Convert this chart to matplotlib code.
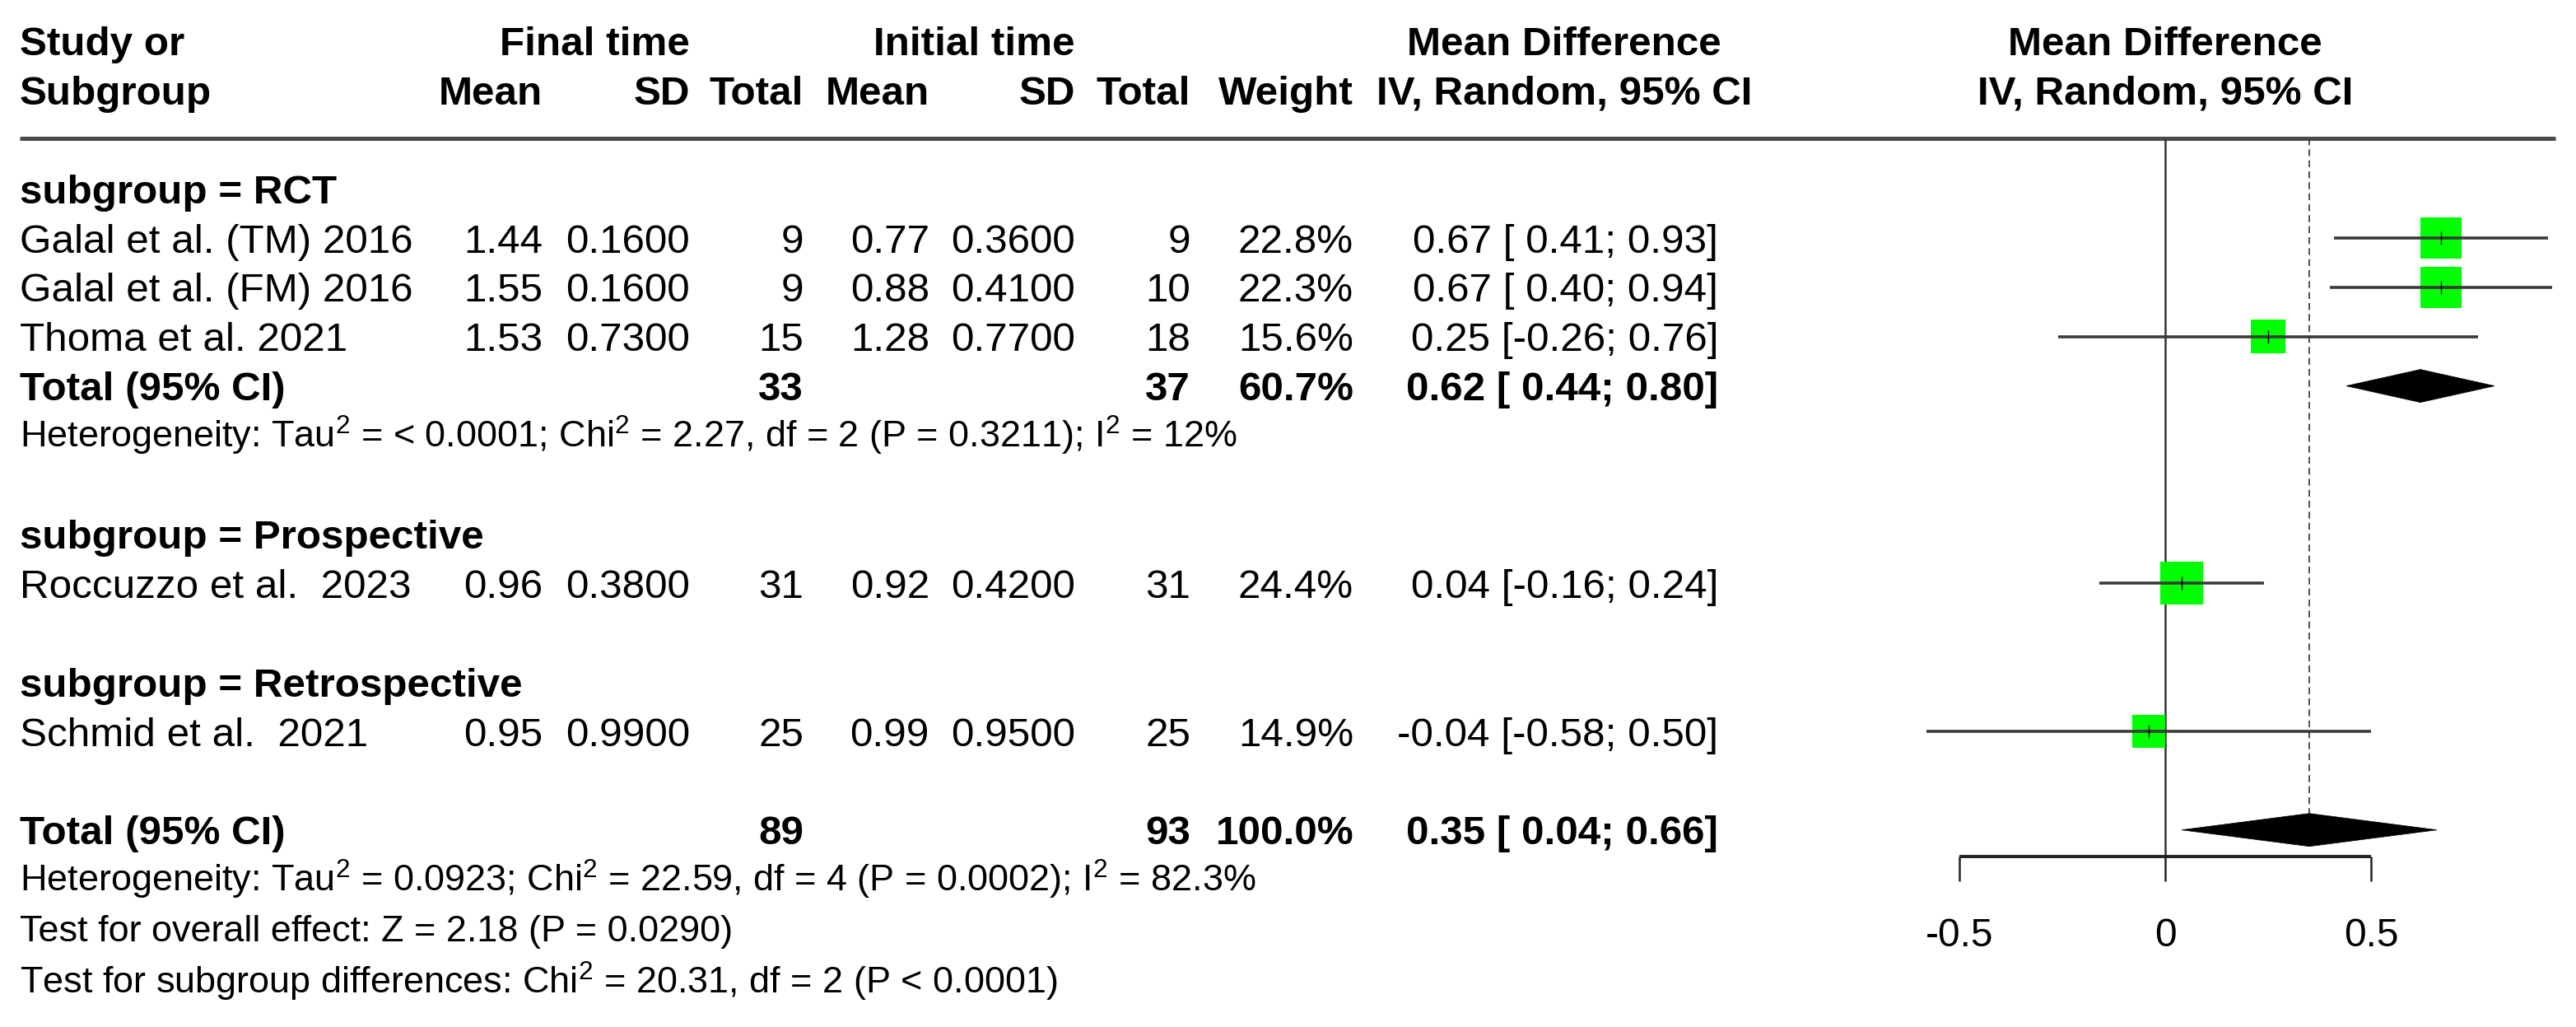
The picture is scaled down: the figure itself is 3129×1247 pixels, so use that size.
import matplotlib
matplotlib.use("Agg")
import matplotlib.pyplot as plt
from matplotlib.patches import Rectangle, Polygon

plt.rcParams['font.family'] = ['Liberation Sans', 'DejaVu Sans']
plt.rcParams['mathtext.fontset'] = 'custom'
plt.rcParams['mathtext.rm'] = 'Liberation Sans'
plt.rcParams['mathtext.it'] = 'Liberation Sans:italic'
plt.rcParams['mathtext.bf'] = 'Liberation Sans:bold'

# Dados dos estudos
studies = ["Galal et al. (TM) 2016", "Galal et al. (FM) 2016", "Thoma et al. 2021",
           "Roccuzzo et al.  2023", "Schmid et al.  2021"]
fin_mean = [1.44, 1.55, 1.53, 0.96, 0.95]
fin_sd = [0.16, 0.16, 0.73, 0.38, 0.99]
fin_n = [9, 9, 15, 31, 25]
ini_mean = [0.77, 0.88, 1.28, 0.92, 0.99]
ini_sd = [0.36, 0.41, 0.77, 0.42, 0.95]
ini_n = [9, 10, 18, 31, 25]
weight = [22.8, 22.3, 15.6, 24.4, 14.9]
md = [0.67, 0.67, 0.25, 0.04, -0.04]
lo = [0.41, 0.40, -0.26, -0.16, -0.58]
hi = [0.93, 0.94, 0.76, 0.24, 0.50]

# Totais (subgrupo RCT e geral)
tot_labels = ["RCT", "overall"]
tot_fin_n = [33, 89]
tot_ini_n = [37, 93]
tot_weight = [60.7, 100.0]
tot_md = [0.62, 0.35]
tot_lo = [0.44, 0.04]
tot_hi = [0.80, 0.66]

subgroups = ["subgroup = RCT", "subgroup = Prospective", "subgroup = Retrospective"]
het_rct = "Heterogeneity: Tau$^{2}$ = < 0.0001; Chi$^{2}$ = 2.27, df = 2 (P = 0.3211); I$^{2}$ = 12%"
het_all = "Heterogeneity: Tau$^{2}$ = 0.0923; Chi$^{2}$ = 22.59, df = 4 (P = 0.0002); I$^{2}$ = 82.3%"
test_all = "Test for overall effect: Z = 2.18 (P = 0.0290)"
test_sub = "Test for subgroup differences: Chi$^{2}$ = 20.31, df = 2 (P < 0.0001)"
ticks = [-0.5, 0, 0.5]

# Layout (pixels)
W, H = 3129, 1247
fs = 35.6
fs_small = 32.4
def row(i):
    return 229 + 59.9 * i

study_rows = [row(1), row(2), row(3), row(8), row(11)]
tot_rows = [row(4), row(13)]
sub_rows = [row(0), row(7), row(10)]

x_name = 24
c_fmean, c_fsd, c_fn = 659, 838, 976
c_imean, c_isd, c_in = 1129, 1306, 1446
c_w, c_ci, c_cihead = 1644, 2087, 1900
off = 17.7

fig = plt.figure(figsize=(W / 100, H / 100), dpi=100)
ax = fig.add_axes([0, 0, 1, 1])
ax.set_xlim(0, W)
ax.set_ylim(H, 0)
ax.axis('off')

# forest axes: 500 px por unidade, zero em x=2630
x0, ppu = 2630, 500
axf = fig.add_axes([0, 0, 1, 1])
axf.set_xlim(-x0 / ppu, (W - x0) / ppu)
axf.set_ylim(H, 0)
axf.axis('off')

def txt(x, y, s, ha='right', bold=False, size=fs):
    ax.text(x, y, s, ha=ha, va='baseline', fontsize=size,
            fontweight='bold' if bold else 'normal', color='black')

# Cabeçalho
txt(x_name, 67, "Study or", ha='left', bold=True)
txt(x_name, 127, "Subgroup", ha='left', bold=True)
txt(c_fsd, 67, "Final time", bold=True)
txt(c_isd, 67, "Initial time", bold=True)
txt(c_cihead, 67, "Mean Difference", ha='center', bold=True)
for x, s in [(c_fmean, "Mean"), (c_fsd, "SD"), (c_fn, "Total"), (c_imean, "Mean"),
             (c_isd, "SD"), (c_in, "Total"), (c_w, "Weight")]:
    txt(x, 127, s, bold=True)
txt(c_cihead, 127, "IV, Random, 95% CI", ha='center', bold=True)
axf.text(0, 67, "Mean Difference", ha='center', va='baseline', fontsize=fs, fontweight='bold')
axf.text(0, 127, "IV, Random, 95% CI", ha='center', va='baseline', fontsize=fs, fontweight='bold')
ax.hlines(168, x_name, 3104, color='#4a4a4a', lw=3.6)

for y, s in zip(sub_rows, subgroups):
    txt(x_name, y + off, s, ha='left', bold=True)

for i, y in enumerate(study_rows):
    b = y + off
    txt(x_name, b, studies[i], ha='left')
    txt(c_fmean, b, f"{fin_mean[i]:.2f}")
    txt(c_fsd, b, f"{fin_sd[i]:.4f}")
    txt(c_fn, b, f"{fin_n[i]}")
    txt(c_imean, b, f"{ini_mean[i]:.2f}")
    txt(c_isd, b, f"{ini_sd[i]:.4f}")
    txt(c_in, b, f"{ini_n[i]}")
    txt(c_w, b, f"{weight[i]:.1f}%")
    txt(c_ci, b, f"{md[i]:.2f} [{lo[i]:5.2f}; {hi[i]:.2f}]")

for i, y in enumerate(tot_rows):
    b = y + off
    txt(x_name, b, "Total (95% CI)", ha='left', bold=True)
    txt(c_fn, b, f"{tot_fin_n[i]}", bold=True)
    txt(c_in, b, f"{tot_ini_n[i]}", bold=True)
    txt(c_w, b, f"{tot_weight[i]:.1f}%", bold=True)
    txt(c_ci, b, f"{tot_md[i]:.2f} [{tot_lo[i]:5.2f}; {tot_hi[i]:.2f}]", bold=True)

so = 15.5
txt(x_name, row(5) + so, het_rct, ha='left', size=fs_small)
txt(x_name, row(14) + so, het_all, ha='left', size=fs_small)
txt(x_name, row(15) + so, test_all, ha='left', size=fs_small)
txt(x_name, row(16) + 4 + so, test_sub, ha='left', size=fs_small)

# Forest: linhas de referência
y_axis = 1040
axf.vlines(0, 168, y_axis, color='#333333', lw=1.8, zorder=1)
axf.vlines(tot_md[1], 168, tot_rows[1] - 20, color='#333333', lw=1.2,
           linestyles=(0, (5, 3)), zorder=1)

# Estudos: caixas e IC
for i, y in enumerate(study_rows):
    side = 50 * (weight[i] / 22.8) ** 0.5
    axf.add_patch(Rectangle((md[i] - side / 2 / ppu, y - side / 2), side / ppu, side,
                            facecolor='#00ff00', edgecolor='none', zorder=2))
    axf.hlines(y, lo[i], hi[i], color='#3a3a3a', lw=2.6, zorder=3)
    axf.vlines(md[i], y - 8, y + 8, color='black', lw=1.0, zorder=4)

# Diamantes
for i, y in enumerate(tot_rows):
    axf.add_patch(Polygon([(tot_lo[i], y), (tot_md[i], y - 20), (tot_hi[i], y), (tot_md[i], y + 20)],
                          closed=True, facecolor='black', edgecolor='black', lw=0.5, zorder=3))

# Eixo x
axf.hlines(y_axis, ticks[0], ticks[-1], color='#222222', lw=2.8)
axf.vlines(ticks, y_axis, y_axis + 30, color='#222222', lw=1.8)
for t in ticks:
    axf.text(t, 1132 + 17, f"{t:g}", ha='center', va='baseline', fontsize=34.5)

fig.savefig("out.png", dpi=100)
